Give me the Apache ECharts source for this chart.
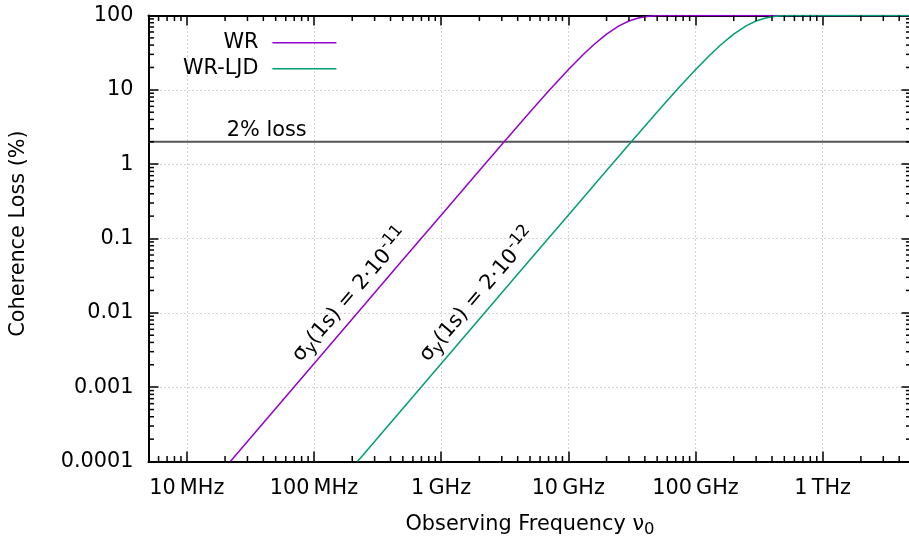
<!DOCTYPE html>
<html><head><meta charset="utf-8">
<script src="https://cdn.jsdelivr.net/npm/echarts@6/dist/echarts.min.js"></script>
<style>html,body{margin:0;padding:0;background:#fff}#c{width:909px;height:537px}</style>
</head><body><div id="c"></div>
<script>
// ---- data (frequency in Hz, coherence loss in %) ----
const freqWR  = [2.2e7, 3e7, 5e7, 1e8, 2e8, 5e8, 1e9, 2e9, 3e9, 5e9, 7e9, 1e10, 1.3e10, 1.6e10, 2e10, 2.5e10, 3e10, 3.5e10, 4e10, 4.5e10, 5e10, 5.5e10, 6e10, 7e10, 1e11, 1e12, 5e12];
const lossWR  = [0.0001, 0.000186, 0.000517, 0.00207, 0.00826, 0.0516, 0.206, 0.823, 1.842, 5.034, 9.628, 18.67, 29.47, 41.08, 56.24, 72.51, 84.43, 92.04, 96.33, 98.48, 99.43, 99.81, 99.94, 100, 100, 100, 100];
const freqLJD = [2.2e8, 3e8, 5e8, 1e9, 2e9, 5e9, 1e10, 2e10, 3e10, 5e10, 7e10, 1e11, 1.3e11, 1.6e11, 2e11, 2.5e11, 3e11, 3.5e11, 4e11, 4.5e11, 5e11, 5.5e11, 6e11, 7e11, 1e12, 5e12];
const lossLJD = [0.0001, 0.000186, 0.000517, 0.00207, 0.00826, 0.0516, 0.206, 0.823, 1.842, 5.034, 9.628, 18.67, 29.47, 41.08, 56.24, 72.51, 84.43, 92.04, 96.33, 98.48, 99.43, 99.81, 99.94, 100, 100, 100];
const limitFreq = [5e6, 5e12];
const limitLoss = [2, 2];
const xMin = 5e6, xMax = 5e12, yMin = 1e-4, yMax = 100;
const xTickValues = [1e7, 1e8, 1e9, 1e10, 1e11, 1e12];
const xTickLabels = ['10\u2009MHz', '100\u2009MHz', '1\u2009GHz', '10\u2009GHz', '100\u2009GHz', '1\u2009THz'];
const yTickValues = [1e-4, 1e-3, 1e-2, 1e-1, 1, 10, 100];
const yTickLabels = ['0.0001', '0.001', '0.01', '0.1', '1', '10', '100'];
const minorMultipliers = [2, 3, 4, 5, 6, 7, 8, 9];
const seriesNames = ['WR', 'WR-LJD'];
const annotWR  = {pos: [1.95e8, 0.0172], text: '{n|σ}{sub|y}{n|(1s) = 2·10}{sup|-11}'};
const annotLJD = {pos: [1.95e9, 0.0172], text: '{n|σ}{sub|y}{n|(1s) = 2·10}{sup|-12}'};
const lossLabel = {pos: [4.25e7, 2], text: '2% loss'};

const FONT = 'DejaVu Sans';
const FS = 20.8, FS_SMALL = 16.5;
const colWR = '#9400d3', colLJD = '#009e73';

function findLabel(vals, labels, v) {
  for (let i = 0; i < vals.length; i++) {
    if (Math.abs(Math.log10(vals[i]) - Math.log10(v)) < 1e-6) return labels[i];
  }
  return '';
}
function zip(a, b) { return a.map((v, i) => [v, b[i]]); }

const minorX = [], minorY = [];
for (let d = 6; d <= 12; d++) minorMultipliers.forEach(m => { const v = m * Math.pow(10, d); if (v > xMin && v < xMax) minorX.push([v, 1]); });
for (let d = -4; d <= 1; d++) minorMultipliers.forEach(m => { const v = m * Math.pow(10, d); if (v > yMin && v < yMax) minorY.push([1e9, v]); });

const axisLineStyle = {color: '#000', width: 2};
const tickStyle = {color: '#000', width: 1.5};
const splitStyle = {color: '#a8a8a8', type: [1, 3], width: 1};

const chart = echarts.init(document.getElementById('c'), null, {renderer: 'canvas'});
const option = {
  animation: false,
  backgroundColor: '#fff',
  textStyle: {fontFamily: FONT},
  grid: {left: 148.5, right: -2.5, top: 15.5, bottom: 75.5, containLabel: false, outerBoundsMode: 'none'},
  legend: {
    data: seriesNames, orient: 'vertical', align: 'right', icon: 'rect',
    left: 178, top: 27.2, itemWidth: 64, itemHeight: 1.5, itemGap: 5, padding: 5,
    textStyle: {fontSize: FS, fontFamily: FONT, color: '#000', lineHeight: 20, padding: [0, 9, 0, 0]}
  },
  xAxis: [{
    type: 'log', logBase: 10, min: xMin, max: xMax, position: 'bottom',
    axisLine: {show: true, onZero: false, lineStyle: axisLineStyle},
    axisTick: {show: true, inside: true, length: 10, lineStyle: tickStyle},
    axisLabel: {formatter: v => findLabel(xTickValues, xTickLabels, v), fontSize: FS, fontFamily: FONT, color: '#000', margin: 17, showMinLabel: false, showMaxLabel: false},
    splitLine: {show: true, lineStyle: splitStyle},
    name: 'Observing Frequency ν{sub|0}', nameLocation: 'middle', nameGap: 50,
    nameTextStyle: {fontSize: FS, fontFamily: FONT, color: '#000', rich: {sub: {fontSize: FS_SMALL, fontFamily: FONT, verticalAlign: 'middle', padding: [10, 0, 0, 0]}}}
  }, {
    type: 'log', logBase: 10, min: xMin, max: xMax, position: 'top',
    axisLine: {show: true, onZero: false, lineStyle: axisLineStyle},
    axisTick: {show: true, inside: true, length: 10, lineStyle: tickStyle},
    axisLabel: {show: false}, splitLine: {show: false}
  }],
  yAxis: [{
    type: 'log', logBase: 10, min: yMin, max: yMax, position: 'left',
    axisLine: {show: true, onZero: false, lineStyle: axisLineStyle},
    axisTick: {show: true, inside: true, length: 10, lineStyle: tickStyle},
    axisLabel: {formatter: v => findLabel(yTickValues, yTickLabels, v), fontSize: FS, fontFamily: FONT, color: '#000', margin: 15},
    splitLine: {show: true, lineStyle: splitStyle},
    name: 'Coherence Loss (%)', nameLocation: 'middle', nameGap: 119, nameRotate: 90,
    nameTextStyle: {fontSize: FS, fontFamily: FONT, color: '#000', padding: [0, 0, 0, 10]}
  }, {
    type: 'log', logBase: 10, min: yMin, max: yMax, position: 'right',
    axisLine: {show: true, onZero: false, lineStyle: axisLineStyle},
    axisTick: {show: true, inside: true, length: 10, lineStyle: tickStyle},
    axisLabel: {show: false}, splitLine: {show: false}
  }],
  series: [{
    name: 'WR', type: 'line', data: zip(freqWR, lossWR), symbol: 'none', clip: true, z: 3,
    lineStyle: {color: colWR, width: 1.5}, itemStyle: {color: colWR}
  }, {
    name: 'WR-LJD', type: 'line', data: zip(freqLJD, lossLJD), symbol: 'none', clip: true, z: 3,
    lineStyle: {color: colLJD, width: 1.5}, itemStyle: {color: colLJD}
  }, {
    name: 'limit', type: 'line', data: zip(limitFreq, limitLoss), symbol: 'none', z: 2, silent: true,
    lineStyle: {color: '#555', width: 2}, itemStyle: {color: '#555'}
  }, {
    name: 'minorX', type: 'custom', data: minorX, silent: true, z: 5,
    renderItem: (params, api) => {
      const p = api.coord([api.value(0), 1]);
      const cs = params.coordSys;
      const st = {stroke: '#000', lineWidth: 1.5};
      return {type: 'group', children: [
        {type: 'line', shape: {x1: p[0], y1: cs.y + cs.height, x2: p[0], y2: cs.y + cs.height - 5.5}, style: st},
        {type: 'line', shape: {x1: p[0], y1: cs.y, x2: p[0], y2: cs.y + 5.5}, style: st}
      ]};
    }
  }, {
    name: 'minorY', type: 'custom', data: minorY, silent: true, z: 5,
    renderItem: (params, api) => {
      const p = api.coord([1e9, api.value(1)]);
      const cs = params.coordSys;
      const st = {stroke: '#000', lineWidth: 1.5};
      return {type: 'group', children: [
        {type: 'line', shape: {x1: cs.x, y1: p[1], x2: cs.x + 5.5, y2: p[1]}, style: st},
        {type: 'line', shape: {x1: cs.x + cs.width, y1: p[1], x2: cs.x + cs.width - 5.5, y2: p[1]}, style: st}
      ]};
    }
  }]
};
chart.setOption(option);

// annotations anchored in data space
const fd = {gridIndex: 0};
const a1 = chart.convertToPixel(fd, [freqWR[3], lossWR[3]]);
const a2 = chart.convertToPixel(fd, [freqWR[6], lossWR[6]]);
const angle = Math.atan2(-(a2[1] - a1[1]), a2[0] - a1[0]);
const rich = {
  n: {fontSize: FS, fontFamily: FONT, verticalAlign: 'middle'},
  sub: {fontSize: FS_SMALL, fontFamily: FONT, verticalAlign: 'middle', padding: [10, 0, 0, 0]},
  sup: {fontSize: FS_SMALL, fontFamily: FONT, verticalAlign: 'middle', padding: [0, 0, 14, 0]}
};
function annot(a) {
  const p = chart.convertToPixel(fd, a.pos);
  return {type: 'text', x: p[0], y: p[1], rotation: angle, z: 10,
    style: {text: a.text, rich: rich, fill: '#000', align: 'center', verticalAlign: 'middle', fontSize: FS, fontFamily: FONT}};
}
const pl = chart.convertToPixel(fd, lossLabel.pos);
chart.setOption({graphic: [
  annot(annotWR), annot(annotLJD),
  {type: 'text', x: pl[0], y: pl[1] - 1, z: 10, style: {text: lossLabel.text, fill: '#000', fontSize: FS, fontFamily: FONT, align: 'center', verticalAlign: 'bottom'}}
]});
</script></body></html>
